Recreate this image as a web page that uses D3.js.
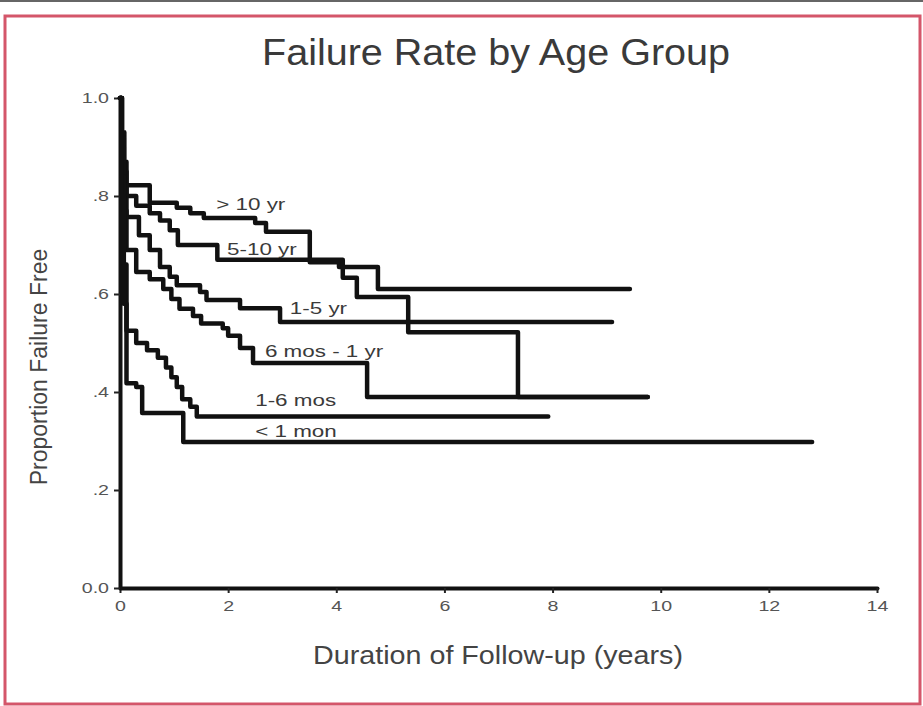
<!DOCTYPE html>
<html>
<head>
<meta charset="utf-8">
<script src="https://cdn.jsdelivr.net/npm/d3@7"></script>
<style>
  html, body { margin: 0; padding: 0; background: #fff; }
  svg { display: block; }
  text { font-family: "Liberation Sans", Arial, Helvetica, sans-serif; }
</style>
</head>
<body>
<svg id="chart" width="923" height="706"></svg>
<script>
// ---------------- DATA ----------------
const chartTitle = "Failure Rate by Age Group";
const xAxisTitle = "Duration of Follow-up (years)";
const yAxisTitle = "Proportion Failure Free";

const xTicks = [0, 2, 4, 6, 8, 10, 12, 14];
const xTickLabels = ["0", "2", "4", "6", "8", "10", "12", "14"];
const yTicks = [0, 0.2, 0.4, 0.6, 0.8, 1.0];
const yTickLabels = ["0.0", ".2", ".4", ".6", ".8", "1.0"];

const groupNames = ["> 10 yr", "5-10 yr", "1-5 yr", "6 mos - 1 yr", "1-6 mos", "< 1 mon"];

// Kaplan-Meier step curves: time (years) and proportion failure free
const over10Time = [0, 0.04, 0.08, 0.12, 0.55, 1.05, 1.3, 1.55, 2.5, 2.7, 3.51, 4.05, 4.77, 9.43];
const over10Surv = [1.0, 0.93, 0.87, 0.822, 0.786, 0.776, 0.765, 0.755, 0.745, 0.727, 0.665, 0.655, 0.61, 0.61];

const fiveTo10Time = [0, 0.03, 0.07, 0.12, 0.3, 0.55, 0.74, 0.92, 1.07, 1.8, 4.12, 4.38, 5.33, 7.36, 9.76];
const fiveTo10Surv = [1.0, 0.92, 0.85, 0.80, 0.78, 0.765, 0.75, 0.73, 0.70, 0.67, 0.633, 0.594, 0.522, 0.39, 0.39];

const oneTo5Time = [0, 0.03, 0.07, 0.12, 0.35, 0.55, 0.74, 0.92, 1.05, 1.48, 1.6, 2.22, 2.96, 9.1];
const oneTo5Surv = [1.0, 0.90, 0.82, 0.757, 0.72, 0.69, 0.655, 0.635, 0.618, 0.604, 0.588, 0.571, 0.543, 0.543];

const sixMoTo1Time = [0, 0.03, 0.07, 0.12, 0.3, 0.55, 0.8, 0.95, 1.1, 1.35, 1.5, 1.9, 2.0, 2.22, 2.46, 4.57, 9.76];
const sixMoTo1Surv = [1.0, 0.88, 0.77, 0.69, 0.645, 0.63, 0.61, 0.59, 0.57, 0.555, 0.54, 0.53, 0.515, 0.49, 0.459, 0.39, 0.39];

const oneTo6MoTime = [0, 0.03, 0.07, 0.12, 0.3, 0.5, 0.7, 0.85, 0.95, 1.05, 1.15, 1.3, 1.42, 7.92];
const oneTo6MoSurv = [1.0, 0.84, 0.66, 0.525, 0.50, 0.485, 0.47, 0.45, 0.43, 0.41, 0.385, 0.37, 0.35, 0.35];

const under1MoTime = [0, 0.03, 0.07, 0.12, 0.3, 0.41, 1.17, 12.8];
const under1MoSurv = [1.0, 0.80, 0.58, 0.418, 0.41, 0.357, 0.298, 0.298];

const seriesTimes = [over10Time, fiveTo10Time, oneTo5Time, sixMoTo1Time, oneTo6MoTime, under1MoTime];
const seriesSurv = [over10Surv, fiveTo10Surv, oneTo5Surv, sixMoTo1Surv, oneTo6MoSurv, under1MoSurv];

// ---------------- LAYOUT ----------------
const W = 923, H = 706;
const plot = { left: 120, right: 877, top: 98, bottom: 588 };
// label anchors (left edge, vertical centre) in data units
const labelAnchor = [
  [1.78, 0.782], [1.98, 0.692], [3.14, 0.571], [2.68, 0.482], [2.5, 0.382], [2.5, 0.320]
];

const svg = d3.select("#chart");
svg.append("rect").attr("x", 0).attr("y", 0).attr("width", W).attr("height", H).attr("fill", "#fff");
svg.append("rect").attr("x", 0).attr("y", 0).attr("width", W).attr("height", 2).attr("fill", "#666");
svg.append("rect").attr("x", 5).attr("y", 16).attr("width", 915).attr("height", 688)
  .attr("fill", "none").attr("stroke", "#d4566a").attr("stroke-width", 3);

const x = d3.scaleLinear().domain([0, 14]).range([plot.left, plot.right]);
const y = d3.scaleLinear().domain([0, 1]).range([plot.bottom, plot.top]);

function stretch(sel, k) {
  sel.each(function () {
    const L = this.getComputedTextLength();
    d3.select(this).attr("textLength", L * k).attr("lengthAdjust", "spacingAndGlyphs");
  });
}

// title
svg.append("text").attr("x", 496).attr("y", 65).attr("text-anchor", "middle")
  .attr("font-size", 37).attr("fill", "#3a3a3a").text(chartTitle)
  .attr("textLength", 468).attr("lengthAdjust", "spacingAndGlyphs");

// axes
const gx = svg.append("g").attr("transform", `translate(0,${plot.bottom})`)
  .call(d3.axisBottom(x).tickValues(xTicks).tickFormat((d, i) => xTickLabels[i])
    .tickSize(5).tickSizeOuter(0).tickPadding(8));
const gy = svg.append("g").attr("transform", `translate(${plot.left},0)`)
  .call(d3.axisLeft(y).tickValues(yTicks).tickFormat((d, i) => yTickLabels[i])
    .tickSize(6).tickSizeOuter(0).tickPadding(5));
[gx, gy].forEach(g => {
  g.select(".domain").attr("stroke", "#111").attr("stroke-width", 4).attr("stroke-linecap", "round");
  g.selectAll(".tick line").attr("stroke", "#222").attr("stroke-width", 2);
  g.selectAll(".tick text").attr("font-size", 14).attr("fill", "#555")
    .attr("font-family", "'Liberation Sans', Arial, sans-serif");
  stretch(g.selectAll(".tick text"), 1.4);
});

// axis titles
svg.append("text").attr("x", 498).attr("y", 664).attr("text-anchor", "middle")
  .attr("font-size", 26).attr("fill", "#444").text(xAxisTitle)
  .attr("textLength", 370).attr("lengthAdjust", "spacingAndGlyphs");
svg.append("text").attr("transform", "translate(47,367) rotate(-90)").attr("text-anchor", "middle")
  .attr("font-size", 23).attr("fill", "#444").text(yAxisTitle);

// curves
const line = d3.line().x(d => x(d[0])).y(d => y(d[1])).curve(d3.curveStepAfter);
seriesTimes.forEach((ts, i) => {
  const pts = ts.map((t, j) => [t, seriesSurv[i][j]]);
  svg.append("path").attr("d", line(pts)).attr("fill", "none")
    .attr("stroke", "#111").attr("stroke-width", 4.5)
    .attr("stroke-linejoin", "round").attr("stroke-linecap", "round");
});

// curve labels
groupNames.forEach((name, i) => {
  const t = svg.append("text").attr("x", x(labelAnchor[i][0])).attr("y", y(labelAnchor[i][1]))
    .attr("dy", "0.35em").attr("font-size", 16).attr("fill", "#3a3a3a").text(name);
  stretch(t, 1.4);
});
</script>
</body>
</html>
